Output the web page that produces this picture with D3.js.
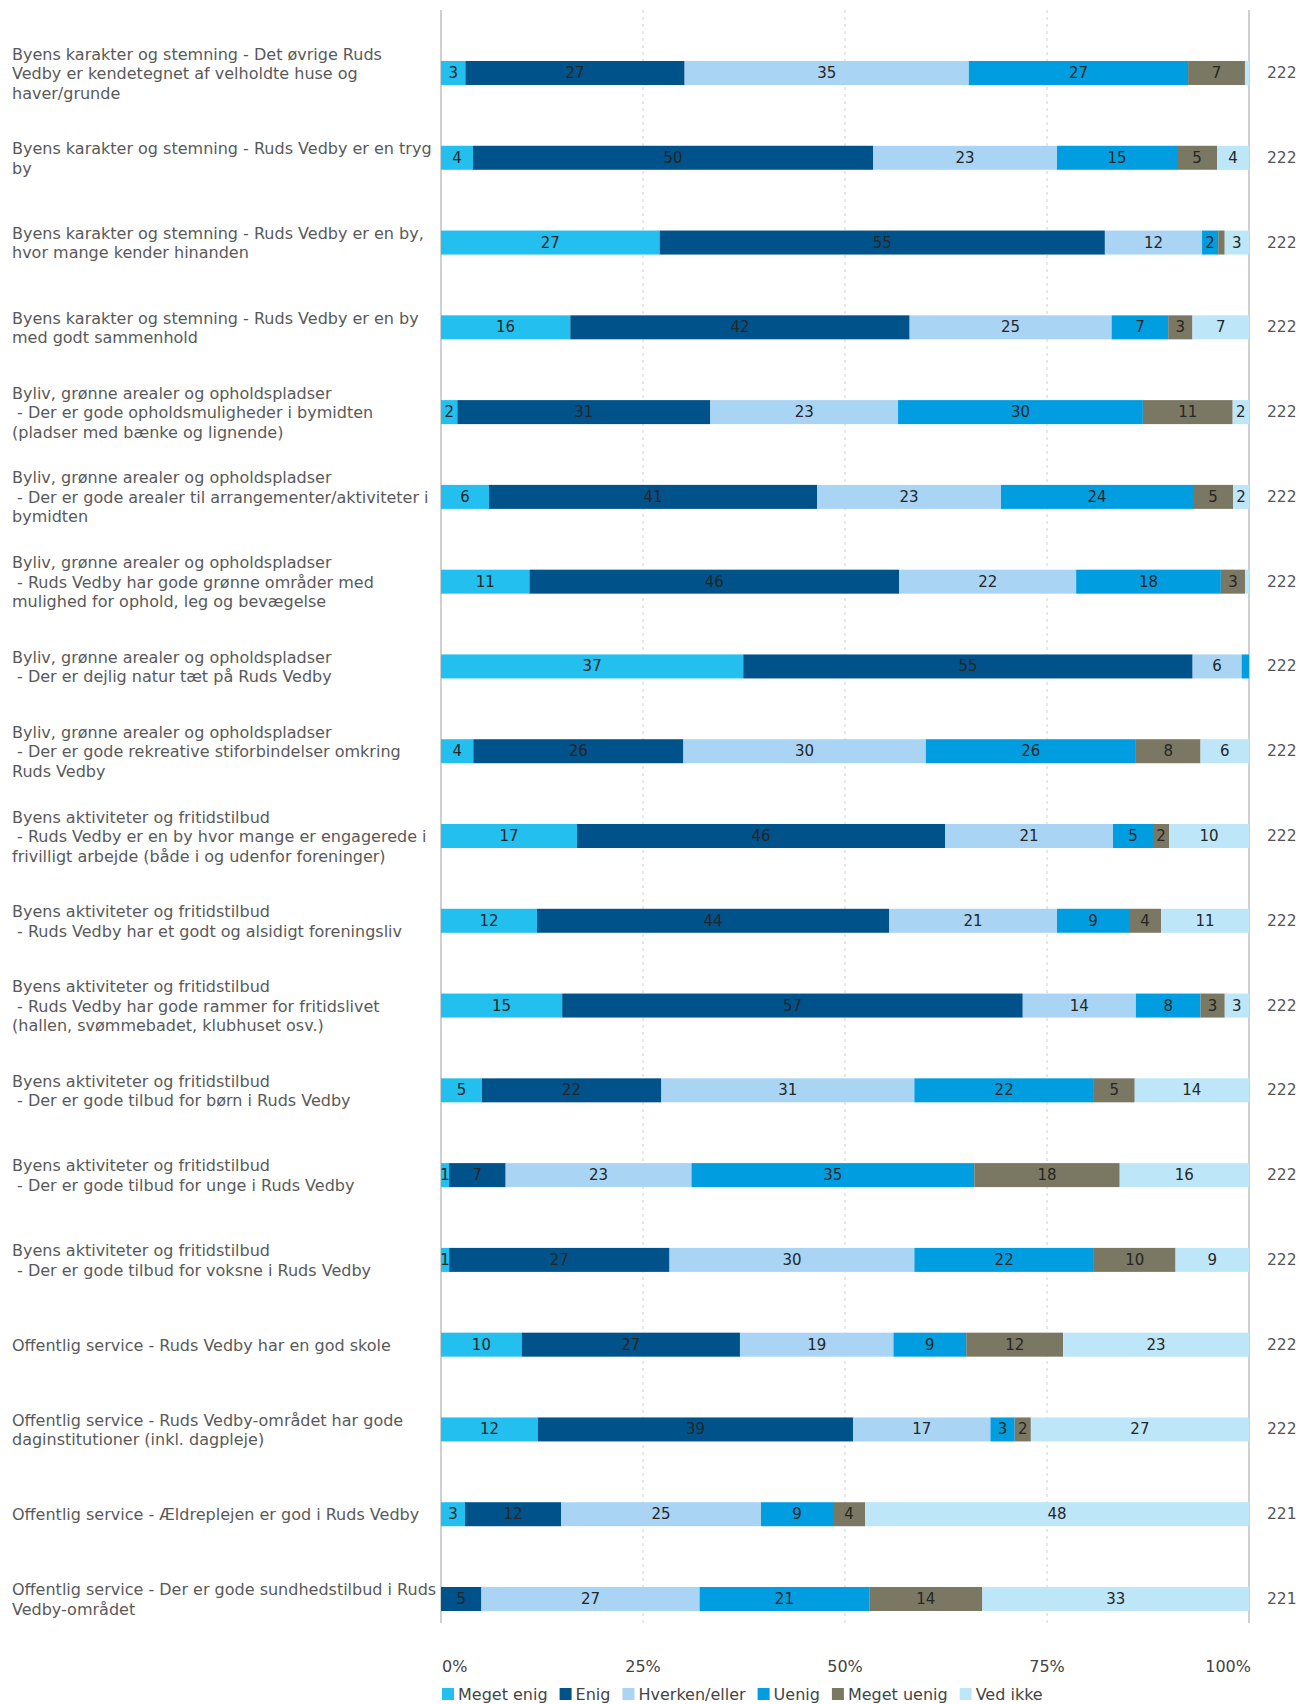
<!DOCTYPE html>
<html><head><meta charset="utf-8">
<script src="https://cdn.jsdelivr.net/npm/d3@7"></script>
<style>body{margin:0;background:#fff}</style>
</head><body>
<svg id="chart" width="1302" height="1704"></svg>
<script>
const categories = [
  "Byens karakter og stemning - Det øvrige Ruds\nVedby er kendetegnet af velholdte huse og\nhaver/grunde",
  "Byens karakter og stemning - Ruds Vedby er en tryg\nby",
  "Byens karakter og stemning - Ruds Vedby er en by,\nhvor mange kender hinanden",
  "Byens karakter og stemning - Ruds Vedby er en by\nmed godt sammenhold",
  "Byliv, grønne arealer og opholdspladser\n - Der er gode opholdsmuligheder i bymidten\n(pladser med bænke og lignende)",
  "Byliv, grønne arealer og opholdspladser\n - Der er gode arealer til arrangementer/aktiviteter i\nbymidten",
  "Byliv, grønne arealer og opholdspladser\n - Ruds Vedby har gode grønne områder med\nmulighed for ophold, leg og bevægelse",
  "Byliv, grønne arealer og opholdspladser\n - Der er dejlig natur tæt på Ruds Vedby",
  "Byliv, grønne arealer og opholdspladser\n - Der er gode rekreative stiforbindelser omkring\nRuds Vedby",
  "Byens aktiviteter og fritidstilbud\n - Ruds Vedby er en by hvor mange er engagerede i\nfrivilligt arbejde (både i og udenfor foreninger)",
  "Byens aktiviteter og fritidstilbud\n - Ruds Vedby har et godt og alsidigt foreningsliv",
  "Byens aktiviteter og fritidstilbud\n - Ruds Vedby har gode rammer for fritidslivet\n(hallen, svømmebadet, klubhuset osv.)",
  "Byens aktiviteter og fritidstilbud\n - Der er gode tilbud for børn i Ruds Vedby",
  "Byens aktiviteter og fritidstilbud\n - Der er gode tilbud for unge i Ruds Vedby",
  "Byens aktiviteter og fritidstilbud\n - Der er gode tilbud for voksne i Ruds Vedby",
  "Offentlig service - Ruds Vedby har en god skole",
  "Offentlig service - Ruds Vedby-området har gode\ndaginstitutioner (inkl. dagpleje)",
  "Offentlig service - Ældreplejen er god i Ruds Vedby",
  "Offentlig service - Der er gode sundhedstilbud i Ruds\nVedby-området"
];
const seriesNames = ["Meget enig","Enig","Hverken/eller","Uenig","Meget uenig","Ved ikke"];
const seriesColors = ["#22bfef","#00528a","#a9d4f4","#009ee0","#7a7763","#bee6f9"];
const megetEnig   = [3,4,27,16,2,6,11,37,4,17,12,15,5,1,1,10,12,3,0];
const enig        = [27,50,55,42,31,41,46,55,26,46,44,57,22,7,27,27,39,12,5];
const hverken     = [35,23,12,25,23,23,22,6,30,21,21,14,31,23,30,19,17,25,27];
const uenig       = [27,15,2,7,30,24,18,0.9,26,5,9,8,22,35,22,9,3,9,21];
const megetUenig  = [7,5,0.8,3,11,5,3,0,8,2,4,3,5,18,10,12,2,4,14];
const vedIkke     = [0.5,4,3,7,2,2,0.5,0,6,10,11,3,14,16,9,23,27,48,33];
const nValues     = [222,222,222,222,222,222,222,222,222,222,222,222,222,222,222,222,222,221,221];
const tickValues  = [0,25,50,75,100];
const tickLabels  = ["0%","25%","50%","75%","100%"];

const series = [megetEnig, enig, hverken, uenig, megetUenig, vedIkke];
const svg = d3.select("#chart");
const FONT = "'DejaVu Sans', Verdana, sans-serif";

const x = d3.scaleLinear().domain([0,100]).range([441,1249]);
const y = d3.scalePoint().domain(d3.range(categories.length)).range([73,1599]);
const barH = 24;

// grid lines
const gridTop = 10, gridBottom = 1623;
svg.append("g").selectAll("line").data([25,50,75]).join("line")
  .attr("x1", d=>x(d)).attr("x2", d=>x(d)).attr("y1", gridTop).attr("y2", gridBottom)
  .attr("stroke","#cfcfcf").attr("stroke-width",1).attr("stroke-dasharray","3,4");
svg.append("g").selectAll("line").data([0,100]).join("line")
  .attr("x1", d=>x(d)).attr("x2", d=>x(d)).attr("y1", gridTop).attr("y2", gridBottom)
  .attr("stroke","#c4c4c4").attr("stroke-width",1.6);

// rows
const rows = categories.map((c,i)=>{
  const vals = series.map(s=>s[i]);
  const total = d3.sum(vals);
  let acc = 0;
  const segs = vals.map((v,k)=>{ const s = {k, v, x0: acc/total*100, x1:(acc+v)/total*100}; acc += v; return s; });
  return {i, c, segs};
});

const rowG = svg.append("g").selectAll("g").data(rows).join("g");
rowG.selectAll("rect").data(d=>d.segs.filter(s=>s.v>0).map(s=>({...s,i:d.i}))).join("rect")
  .attr("x", s=>x(s.x0)).attr("width", s=>Math.max(0,x(s.x1)-x(s.x0)))
  .attr("y", s=>y(s.i)-barH/2).attr("height", barH)
  .attr("fill", s=>seriesColors[s.k]);
rowG.selectAll("text.val").data(d=>d.segs.filter(s=>s.v>=1).map(s=>({...s,i:d.i}))).join("text")
  .attr("class","val")
  .attr("x", s=>(x(s.x0)+x(s.x1))/2).attr("y", s=>y(s.i))
  .attr("text-anchor","middle").attr("dominant-baseline","central")
  .attr("font-family",FONT).attr("font-size",15).attr("fill","#262626")
  .text(s=>Math.round(s.v));

// category labels
const lineH = 19.5;
svg.append("g").selectAll("text").data(rows).join("text")
  .attr("font-family",FONT).attr("font-size",16).attr("fill","#595959")
  .attr("dominant-baseline","central")
  .each(function(d){
    const lines = d.c.split("\n");
    const t = d3.select(this);
    const start = y(d.i) - (lines.length-1)*lineH/2;
    lines.forEach((ln,j)=>{
      t.append("tspan").attr("x",12).attr("y",start+j*lineH).attr("xml:space","preserve").text(ln);
    });
  });

// n labels
svg.append("g").selectAll("text").data(nValues).join("text")
  .attr("x",1267).attr("y",(d,i)=>y(i)).attr("dominant-baseline","central")
  .attr("font-family",FONT).attr("font-size",15.5).attr("fill","#555")
  .text(d=>d);

// x axis tick labels
svg.append("g").selectAll("text").data(tickValues).join("text")
  .attr("x", d=>x(d)+(d===0?1:d===100?2:0)).attr("y",1666)
  .attr("text-anchor",(d,i)=>i===0?"start":i===tickValues.length-1?"end":"middle")
  .attr("dominant-baseline","central")
  .attr("font-family",FONT).attr("font-size",16).attr("fill","#444")
  .text((d,i)=>tickLabels[i]);

// legend
const leg = svg.append("g");
let lx = 442;
seriesNames.forEach((name,k)=>{
  leg.append("rect").attr("x",lx).attr("y",1688).attr("width",12).attr("height",12).attr("fill",seriesColors[k]);
  const t = leg.append("text").attr("x",lx+16).attr("y",1694).attr("dominant-baseline","central")
    .attr("font-family",FONT).attr("font-size",16).attr("fill","#444").text(name);
  lx += 16 + t.node().getComputedTextLength() + 12;
});
</script>
</body></html>
